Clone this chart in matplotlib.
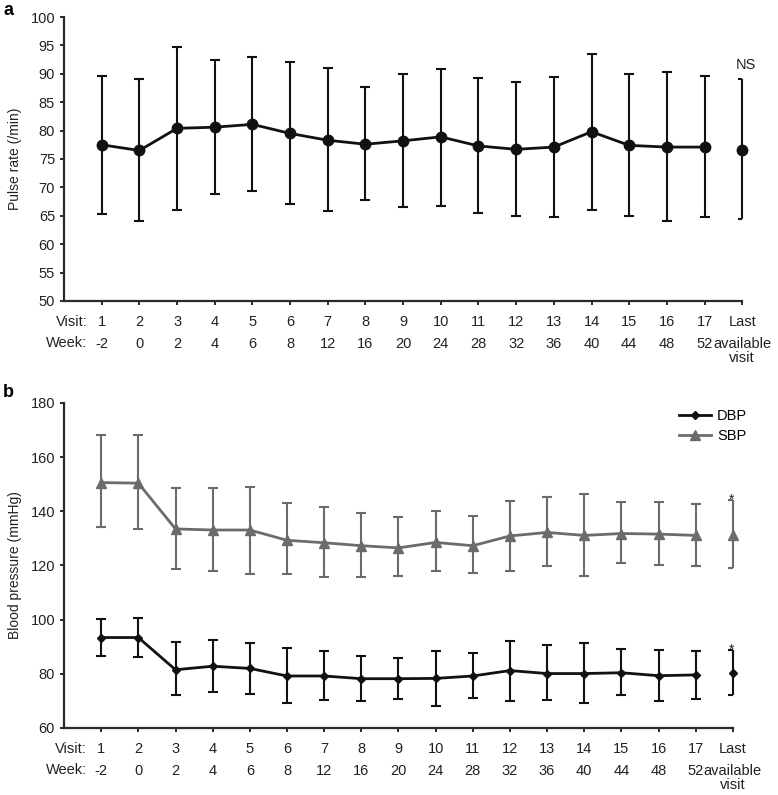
import matplotlib
matplotlib.use('Agg')
import matplotlib.pyplot as plt
import numpy as np

plt.rcParams['font.family'] = ['Liberation Sans', 'DejaVu Sans']

# ---------------- data ----------------
visits = ['1', '2', '3', '4', '5', '6', '7', '8', '9', '10', '11', '12', '13',
          '14', '15', '16', '17', 'Last']
weeks = ['-2', '0', '2', '4', '6', '8', '12', '16', '20', '24', '28', '32', '36',
         '40', '44', '48', '52', 'available\nvisit']

pulse_mean = [77.5, 76.5, 80.4, 80.6, 81.1, 79.5, 78.3, 77.6, 78.2, 78.9, 77.3,
              76.7, 77.1, 79.8, 77.4, 77.1, 77.1, 76.6]
pulse_hi = [89.6, 89.1, 94.8, 92.4, 92.9, 92.0, 91.0, 87.7, 90.0, 90.9, 89.2,
            88.6, 89.4, 93.4, 89.9, 90.3, 89.7, 89.1]
pulse_lo = [65.4, 64.1, 66.0, 68.8, 69.3, 67.0, 65.8, 67.7, 66.6, 66.7, 65.5,
            65.0, 64.8, 66.0, 65.0, 64.1, 64.7, 64.5]

sbp_mean = [150.6, 150.4, 133.5, 133.1, 133.1, 129.3, 128.4, 127.3, 126.5, 128.5,
            127.3, 130.9, 132.2, 131.1, 131.8, 131.6, 131.1, 131.4]
sbp_hi = [168.3, 168.3, 148.5, 148.5, 149.0, 142.9, 141.7, 139.2, 137.8, 140.2,
          138.1, 143.8, 145.2, 146.5, 143.4, 143.4, 142.6, 144.1]
sbp_lo = [134.2, 133.6, 118.6, 117.9, 116.9, 116.7, 115.7, 115.7, 116.1, 117.9,
          117.1, 117.9, 119.9, 116.1, 120.8, 120.2, 119.9, 118.9]

dbp_mean = [93.4, 93.4, 81.5, 82.8, 82.0, 79.2, 79.2, 78.2, 78.2, 78.3, 79.2,
            81.2, 80.1, 80.1, 80.4, 79.3, 79.6, 80.2]
dbp_hi = [100.2, 100.5, 91.6, 92.4, 91.4, 89.7, 88.3, 86.6, 85.8, 88.4, 87.8,
          92.0, 90.5, 91.5, 89.0, 88.8, 88.3, 88.9]
dbp_lo = [86.7, 86.3, 72.0, 73.4, 72.5, 69.3, 70.4, 70.0, 70.8, 68.3, 71.2,
          70.1, 70.4, 69.2, 72.3, 70.1, 70.8, 72.0]

pulse_yticks = [50, 55, 60, 65, 70, 75, 80, 85, 90, 95, 100]
bp_yticks = [60, 80, 100, 120, 140, 160, 180]

# ---------------- figure ----------------
FS = 10.5
LSP = 1.65
AX_COL = '#2a2a2a'
TXT_COL = '#222222'
fig = plt.figure(figsize=(7.78, 7.95), dpi=100)
axa = fig.add_axes([0.0823, 0.6214, 0.954 - 0.0823, 0.9786 - 0.6214])
axb = fig.add_axes([0.0823, 0.0843, 0.942 - 0.0823, 0.4931 - 0.0843])

x = np.arange(1, len(visits) + 1)


def style_axes(ax, yticks):
    for s in ['top', 'right']:
        ax.spines[s].set_visible(False)
    for s in ['left', 'bottom']:
        ax.spines[s].set_linewidth(1.6)
        ax.spines[s].set_color(AX_COL)
    ax.set_xlim(0, len(visits))
    ax.set_ylim(yticks[0], yticks[-1])
    ax.set_yticks(yticks)
    # visit row as major tick labels, week row as minor tick labels
    ax.xaxis.remove_overlapping_locs = False
    ax.set_xticks(x)
    ax.set_xticklabels(visits, fontsize=FS)
    ax.set_xticks(x, minor=True)
    ax.set_xticklabels(weeks, minor=True, fontsize=FS, linespacing=1.0)
    ax.tick_params(axis='both', direction='out', length=3, width=1.4,
                   color=AX_COL, labelsize=FS, labelcolor=TXT_COL)
    ax.tick_params(axis='x', which='major', pad=7)
    ax.tick_params(axis='x', which='minor', length=0, pad=26,
                   labelsize=FS, labelcolor=TXT_COL)
    ax.annotate('Visit:\nWeek:', xy=(0.62, 0), xycoords=('data', 'axes fraction'),
                xytext=(0, -10), textcoords='offset points', ha='right', va='top',
                multialignment='right', fontsize=FS, linespacing=LSP,
                color=TXT_COL, annotation_clip=False)


def draw_series(ax, mean, lo, hi, color, marker, ms, label=None):
    mean = np.asarray(mean)
    lo = np.asarray(lo)
    hi = np.asarray(hi)
    yerr = np.vstack([mean - lo, hi - mean])
    n = len(mean) - 1
    ax.errorbar(x[:n], mean[:n], yerr=yerr[:, :n], fmt='none', ecolor=color,
                elinewidth=1.5, capsize=3.5, capthick=1.5, clip_on=False, zorder=2)
    ax.plot(x[:n], mean[:n], color=color, lw=2.0, marker=marker, ms=ms,
            clip_on=False, zorder=3, label=label)
    # last available visit: detached point with bracket-style bar
    ax.vlines(x[n], lo[n], hi[n], color=color, lw=1.5, clip_on=False, zorder=2)
    ax.hlines([lo[n], hi[n]], x[n] - 0.12, x[n], color=color, lw=1.5,
              clip_on=False, zorder=2)
    ax.plot([x[n]], [mean[n]], color=color, marker=marker, ms=ms, ls='none',
            clip_on=False, zorder=3)


# ---------------- panel a ----------------
style_axes(axa, pulse_yticks)
draw_series(axa, pulse_mean, pulse_lo, pulse_hi, '#111111', 'o', 7.5)
axa.set_ylabel('Pulse rate (/min)', fontsize=10, color=TXT_COL, labelpad=6)
axa.annotate('NS', xy=(x[-1], pulse_hi[-1]), xytext=(3, 5),
             textcoords='offset points', ha='center', va='bottom', fontsize=FS,
             color=TXT_COL, annotation_clip=False)

# ---------------- panel b ----------------
style_axes(axb, bp_yticks)
draw_series(axb, dbp_mean, dbp_lo, dbp_hi, '#111111', 'D', 4.5, label='DBP')
draw_series(axb, sbp_mean, sbp_lo, sbp_hi, '#6b6b6b', '^', 7, label='SBP')
axb.set_ylabel('Blood pressure (mmHg)', fontsize=10, color=TXT_COL, labelpad=6)
for hi in (sbp_hi[-1], dbp_hi[-1]):
    axb.annotate('*', xy=(x[-1], hi), xytext=(-1, -5), textcoords='offset points',
                 ha='center', va='bottom', fontsize=10, color=TXT_COL,
                 annotation_clip=False)
axb.legend(loc='upper right', bbox_to_anchor=(1.03, 1.0), frameon=False,
           fontsize=FS, handlelength=2.2, handletextpad=0.4, labelspacing=0.4,
           borderaxespad=0.0)

fig.text(0.004, 0.997, 'a', fontsize=13, fontweight='bold', va='top', ha='left')
fig.text(0.004, 1 - 384 / 795, 'b', fontsize=13, fontweight='bold', va='top', ha='left')

fig.savefig('out.png', dpi=100)
